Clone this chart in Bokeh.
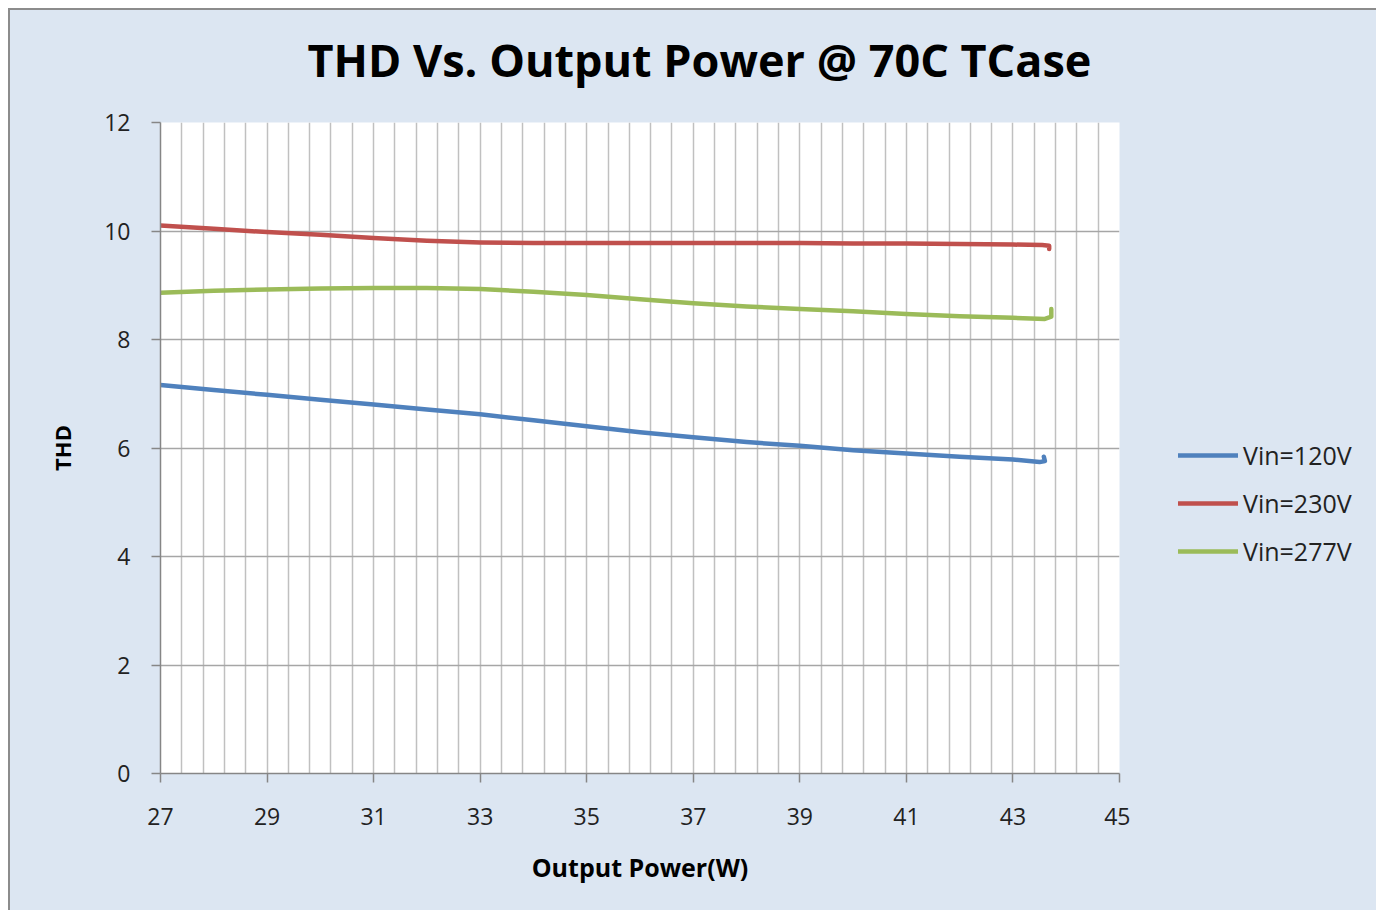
from bokeh.plotting import figure
from bokeh.layouts import row, column
from bokeh.models import Range1d, FixedTicker, Legend, LegendItem
from bokeh.embed import file_html
from bokeh.resources import INLINE

# ---- data ----
x_120 = [27, 28, 29, 30, 31, 32, 33, 34, 35, 36, 37, 38, 39, 40, 41, 42, 43, 43.5, 43.6, 43.58]
y_120 = [7.16, 7.07, 6.98, 6.89, 6.80, 6.71, 6.62, 6.51, 6.40, 6.29, 6.20, 6.11, 6.04, 5.96, 5.90, 5.84, 5.79, 5.74, 5.76, 5.84]

x_230 = [27, 28, 29, 30, 31, 32, 33, 34, 35, 36, 37, 38, 39, 40, 41, 42, 43, 43.55, 43.68, 43.68]
y_230 = [10.10, 10.04, 9.98, 9.93, 9.87, 9.82, 9.79, 9.78, 9.78, 9.78, 9.78, 9.78, 9.78, 9.77, 9.77, 9.76, 9.75, 9.74, 9.73, 9.67]

x_277 = [27, 28, 29, 30, 31, 32, 33, 34, 35, 36, 37, 38, 39, 40, 41, 42, 43, 43.6, 43.72, 43.72]
y_277 = [8.86, 8.90, 8.92, 8.94, 8.95, 8.95, 8.93, 8.88, 8.82, 8.74, 8.67, 8.61, 8.56, 8.52, 8.47, 8.43, 8.40, 8.38, 8.42, 8.56]

series_names = ["Vin=120V", "Vin=230V", "Vin=277V"]
series_colors = ["#4F81BD", "#C0504D", "#9BBB59"]

x_ticks = [27, 29, 31, 33, 35, 37, 39, 41, 43, 45]
y_ticks = [0, 2, 4, 6, 8, 10, 12]
x_minor_step = 0.4
x_min, x_max = 27, 45
y_min, y_max = 0, 12

TITLE = "THD Vs. Output Power @ 70C TCase"
XLABEL = "Output Power(W)"
YLABEL = "THD"

FONT = "Open Sans"
BG = "#dce6f2"
W = 1366
TOP = 96
H = 900 - TOP

# ---- title strip ----
p0 = figure(width=W, height=TOP, output_backend="svg", toolbar_location=None,
            x_axis_type=None, y_axis_type=None,
            min_border_left=150, min_border_right=0, min_border_top=0, min_border_bottom=0)
p0.background_fill_alpha = 0
p0.border_fill_color = BG
p0.outline_line_color = None
p0.grid.visible = False
p0.title.text = TITLE
p0.title.text_font = FONT
p0.title.text_font_style = "bold"
p0.title.text_font_size = "45px"
p0.title.text_color = "black"
p0.title.align = "left"
p0.title.offset = 147
p0.title.standoff = 32

# ---- main chart ----
p = figure(width=1120, height=H, output_backend="svg", toolbar_location=None,
           x_range=Range1d(x_min, x_max), y_range=Range1d(y_min, y_max),
           min_border_left=150, min_border_right=11, min_border_top=16, min_border_bottom=137)

p.background_fill_color = "white"
p.border_fill_color = BG
p.outline_line_color = None

n_minor = int(round((x_max - x_min) / x_minor_step))
p.xgrid.ticker = FixedTicker(ticks=[x_min + i * x_minor_step for i in range(n_minor + 1)])
p.xgrid.grid_line_color = "#c0c0c0"
p.xgrid.grid_line_width = 1.5
p.ygrid.ticker = FixedTicker(ticks=y_ticks)
p.ygrid.grid_line_color = "#a6a6a6"
p.ygrid.grid_line_width = 1.5

xax = p.below[0]
yax = p.left[0]
for ax in (xax, yax):
    ax.axis_line_color = "#868686"
    ax.axis_line_width = 1.5
    ax.major_tick_line_color = "#868686"
    ax.major_tick_line_width = 1.5
    ax.major_tick_in = 0
    ax.major_tick_out = 9
    ax.minor_tick_line_color = None
    ax.major_label_text_font = FONT
    ax.major_label_text_font_size = "23px"
    ax.major_label_text_color = "#222222"
    ax.axis_label_text_font = FONT
    ax.axis_label_text_font_style = "bold"
    ax.axis_label_text_color = "black"

xax.ticker = FixedTicker(ticks=x_ticks)
yax.ticker = FixedTicker(ticks=y_ticks)
xax.axis_label = XLABEL
yax.axis_label = YLABEL
xax.axis_label_text_font_size = "25px"
yax.axis_label_text_font_size = "22px"
xax.major_label_standoff = 25
xax.axis_label_standoff = 22
yax.major_label_standoff = 21
yax.axis_label_standoff = 24

for xs, ys, col in zip([x_120, x_230, x_277], [y_120, y_230, y_277], series_colors):
    p.line(xs, ys, line_color=col, line_width=4.5, line_cap="round", line_join="round")

# ---- legend panel (right side of the chart area) ----
p2 = figure(width=W - 1120, height=H, output_backend="svg", toolbar_location=None,
            x_axis_type=None, y_axis_type=None, min_border=0,
            x_range=Range1d(0, 1), y_range=Range1d(0, 1))
p2.background_fill_alpha = 0
p2.border_fill_color = BG
p2.outline_line_color = None
p2.grid.visible = False

items = []
for xs, ys, name, col in zip([x_120, x_230, x_277], [y_120, y_230, y_277], series_names, series_colors):
    # same series, outside this panel's ranges: only its legend sample shows
    r = p2.line(xs, ys, line_color=col, line_width=4.5, line_cap="round")
    items.append(LegendItem(label=name, renderers=[r]))

legend = Legend(items=items, location=(48, 205))
legend.background_fill_alpha = 0
legend.border_line_color = None
legend.padding = 0
legend.margin = 0
legend.spacing = 14
legend.glyph_width = 60
legend.glyph_height = 20
legend.label_height = 20
legend.label_standoff = 5
legend.label_text_font = FONT
legend.label_text_font_size = "25px"
legend.label_text_color = "#222222"
p2.add_layout(legend)

layout = column(p0, row(p, p2, spacing=0), spacing=0)
layout.styles = {"margin-left": "8px", "margin-top": "8px", "background-color": BG,
                 "border-left": "2px solid #8c8c8c", "border-top": "2px solid #8c8c8c"}

open("out.html", "w").write(file_html(layout, INLINE))
